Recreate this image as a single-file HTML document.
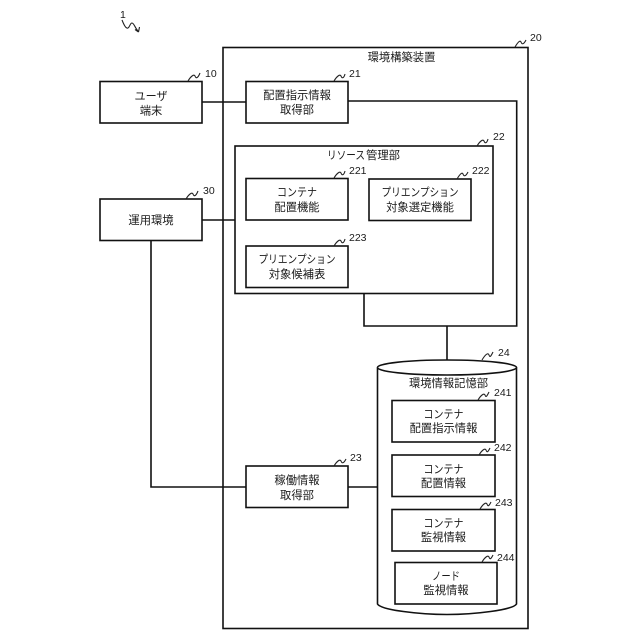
<!DOCTYPE html>
<html><head><meta charset="utf-8"><style>
html,body{margin:0;padding:0;background:#fff}
svg{display:block}
text{font-family:"Liberation Sans","Noto Sans CJK JP",sans-serif;fill:#1a1a1a}
.t{font-size:11.3px;text-anchor:middle}
.n{font-size:10.5px}
rect,.l{fill:none;stroke:#111;stroke-width:1.6}
.s{fill:none;stroke:#222;stroke-width:1.1}
</style></head><body>
<svg width="640" height="640" viewBox="0 0 640 640" xmlns="http://www.w3.org/2000/svg">
<rect width="640" height="640" style="fill:#fff;stroke:none"/>
<path class="l" d="M202 102H246M348 101H516.7V326H364V294M447 326V360M202 220H235M151 240V487H246M348 487H378"/>
<rect x="223" y="47.500" width="305" height="581"/>
<rect x="100" y="81.500" width="102" height="41.500"/>
<rect x="246" y="81.500" width="102" height="41.500"/>
<rect x="100" y="199" width="102" height="41.500"/>
<rect x="235" y="146" width="258" height="147.500"/>
<rect x="246" y="178.500" width="102" height="41.500"/>
<rect x="369" y="179" width="102" height="41.500"/>
<rect x="246" y="246" width="102" height="41.500"/>
<rect x="246" y="466" width="102" height="41.500"/>
<path class="l" style="fill:#fff" d="M377.500 367.500V604C381 610 420 614.500 447 614.500S513 610 516.500 604V367.500"/>
<ellipse class="l" style="fill:#fff" cx="447" cy="367.500" rx="69.500" ry="7.500"/>
<rect x="392" y="400.500" width="103" height="41.500"/>
<rect x="392" y="455" width="103" height="41.500"/>
<rect x="392" y="509.500" width="103" height="41.500"/>
<rect x="395" y="562.500" width="102" height="41.500"/>

<text class="t" x="151" y="100" textLength="33" lengthAdjust="spacingAndGlyphs">ユーザ</text><text class="t" x="151" y="114.500">端末</text>
<text class="t" x="297" y="99">配置指示情報</text><text class="t" x="297" y="113.500">取得部</text>
<text class="t" x="151" y="224">運用環境</text>
<text class="t" x="401.500" y="61">環境構築装置</text>
<text class="t" x="346" y="159" textLength="38" lengthAdjust="spacingAndGlyphs">リソース</text><text class="t" x="383" y="159">管理部</text>
<text class="t" x="297" y="196" textLength="40" lengthAdjust="spacingAndGlyphs">コンテナ</text><text class="t" x="297" y="211">配置機能</text>
<text class="t" x="420" y="196" textLength="77" lengthAdjust="spacingAndGlyphs">プリエンプション</text><text class="t" x="420" y="211">対象選定機能</text>
<text class="t" x="297" y="263" textLength="77" lengthAdjust="spacingAndGlyphs">プリエンプション</text><text class="t" x="297" y="278">対象候補表</text>
<text class="t" x="297" y="484">稼働情報</text><text class="t" x="297" y="499">取得部</text>
<text class="t" x="448.500" y="387">環境情報記憶部</text>
<text class="t" x="443.500" y="418" textLength="40" lengthAdjust="spacingAndGlyphs">コンテナ</text><text class="t" x="443.500" y="432">配置指示情報</text>
<text class="t" x="443.500" y="473" textLength="40" lengthAdjust="spacingAndGlyphs">コンテナ</text><text class="t" x="443.500" y="487">配置情報</text>
<text class="t" x="443.500" y="527" textLength="40" lengthAdjust="spacingAndGlyphs">コンテナ</text><text class="t" x="443.500" y="541">監視情報</text>
<text class="t" x="446" y="580" textLength="28" lengthAdjust="spacingAndGlyphs">ノード</text><text class="t" x="446" y="594">監視情報</text>

<text class="n" x="120" y="18">1</text>
<path class="s" d="M122 20C124 25 126 29 128 28C130 27 130 23 132 23C134 23 135 28 138 31M138.500 32L135 29.500M138.500 32L139.500 27"/>
<text class="n" x="205" y="77">10</text><path class="s" d="M188 81C191 76 194 74 195 76C196 79 198 78 200 73"/>
<text class="n" x="349" y="77">21</text><path class="s" d="M334 81C337 76 340 74 341 76C342 79 344 78 345 74"/>
<text class="n" x="530" y="41">20</text><path class="s" d="M515 47C518 42 520 40 521 42C522 45 524 44 526 40"/>
<text class="n" x="493" y="140">22</text><path class="s" d="M477 146C480 141 483 139 484 141C485 144 487 143 488 139"/>
<text class="n" x="203" y="194">30</text><path class="s" d="M186 199C189 194 192 192 193 194C194 197 196 196 198 191"/>
<text class="n" x="349" y="174">221</text><path class="s" d="M334 178C337 173 340 171 341 173C342 176 344 175 345 171"/>
<text class="n" x="472" y="174">222</text><path class="s" d="M457 179C460 174 462 172 463 174C464 177 466 176 468 172"/>
<text class="n" x="349" y="241">223</text><path class="s" d="M334 246C337 241 340 239 341 241C342 244 344 243 345 239"/>
<text class="n" x="350" y="461">23</text><path class="s" d="M334 466C337 461 340 459 341 461C342 464 344 463 346 459"/>
<text class="n" x="498" y="356">24</text><path class="s" d="M482 360C485 355 488 352 489 355C490 358 491 356 493 352"/>
<text class="n" x="494" y="396">241</text><path class="s" d="M478 400C481 395 484 393 485 395C486 398 487 396 489 392"/>
<text class="n" x="494" y="451">242</text><path class="s" d="M479 455C482 450 485 448 486 450C487 453 488 452 490 448"/>
<text class="n" x="495" y="506">243</text><path class="s" d="M480 509C483 504 486 502 487 504C488 507 489 506 491 502"/>
<text class="n" x="497" y="561">244</text><path class="s" d="M482 562C485 557 488 555 489 557C490 560 491 559 493 555"/>
</svg>
</body></html>
